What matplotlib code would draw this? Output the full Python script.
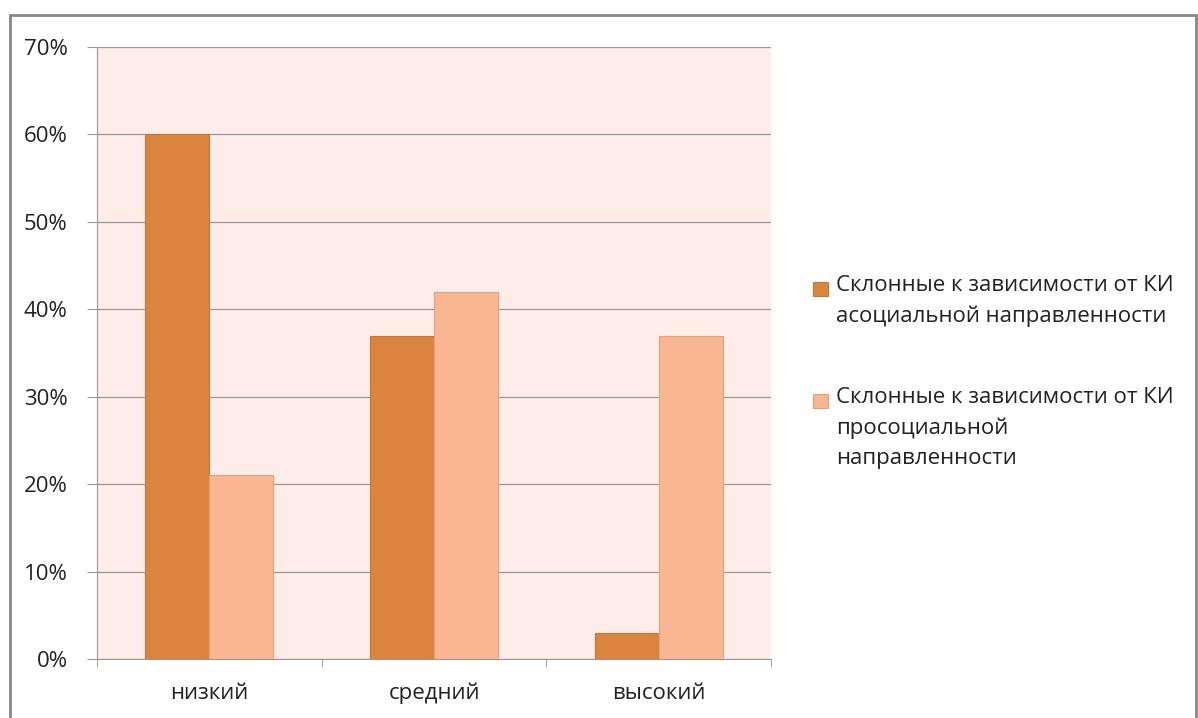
import numpy as np
import matplotlib.pyplot as plt
from matplotlib.patches import Rectangle

categories = ["низкий", "средний", "высокий"]
asocial = [60, 37, 3]
prosocial = [21, 42, 37]
labels = ["Склонные к зависимости от КИ\nасоциальной направленности",
          "Склонные к зависимости от КИ\nпросоциальной\nнаправленности"]
colors = ['#db843d', '#f9b692']
edges = ['#c8773a', '#e8a07c']

plt.rcParams['font.family'] = ['Open Sans', 'DejaVu Sans']

fig = plt.figure(figsize=(11.98, 7.18), dpi=100)
ax = fig.add_axes([97/1198, 59/718, 674/1198, 612/718])
ax.set_facecolor('#fcede9')

x = np.arange(len(categories))
w = 0.285
ax.bar(x - w/2, asocial, w, color=colors[0], edgecolor=edges[0], linewidth=0.8, zorder=3)
ax.bar(x + w/2, prosocial, w, color=colors[1], edgecolor=edges[1], linewidth=0.8, zorder=3)

ax.set_xlim(-0.5, 2.5)
ax.set_ylim(0, 70)
ax.set_yticks(range(0, 71, 10))
ax.set_yticklabels([f"{v}%" for v in range(0, 71, 10)], fontsize=16, color='#222222')
ax.set_xticks(x)
ax.set_xticklabels(categories, fontsize=16, color='#222222')
ax.set_xticks([-0.5, 0.5, 1.5, 2.5], minor=True)
ax.tick_params(axis='x', which='major', length=0, pad=17)
ax.tick_params(axis='x', which='minor', length=6, color='#999999', direction='out')
ax.tick_params(axis='y', length=7, color='#999999', pad=14)
ax.yaxis.grid(True, color='#999999', linewidth=0.9, zorder=0)
for s in ['top', 'right']:
    ax.spines[s].set_visible(False)
for s in ['left', 'bottom']:
    ax.spines[s].set_color('#999999')

# legend: square aligned with the first line of each label
leg_tops = [285, 397]
for lab, c, e, yp in zip(labels, colors, edges, leg_tops):
    fig.patches.append(Rectangle((813/1198, 1 - (yp + 11)/718), 15/1198, 14/718,
                                 transform=fig.transFigure, facecolor=c,
                                 edgecolor=e, linewidth=0.8))
    fig.text(836/1198, 1 - (yp - 10)/718, lab, fontsize=16, color='#222222',
             va='top', ha='left', linespacing=1.56)

fig.patches.append(Rectangle((10/1198, -0.01), 1186/1198, 1 - 15/718 + 0.01,
                             transform=fig.transFigure, fill=False,
                             edgecolor='#888888', linewidth=2))

fig.savefig('out.png', dpi=100)
